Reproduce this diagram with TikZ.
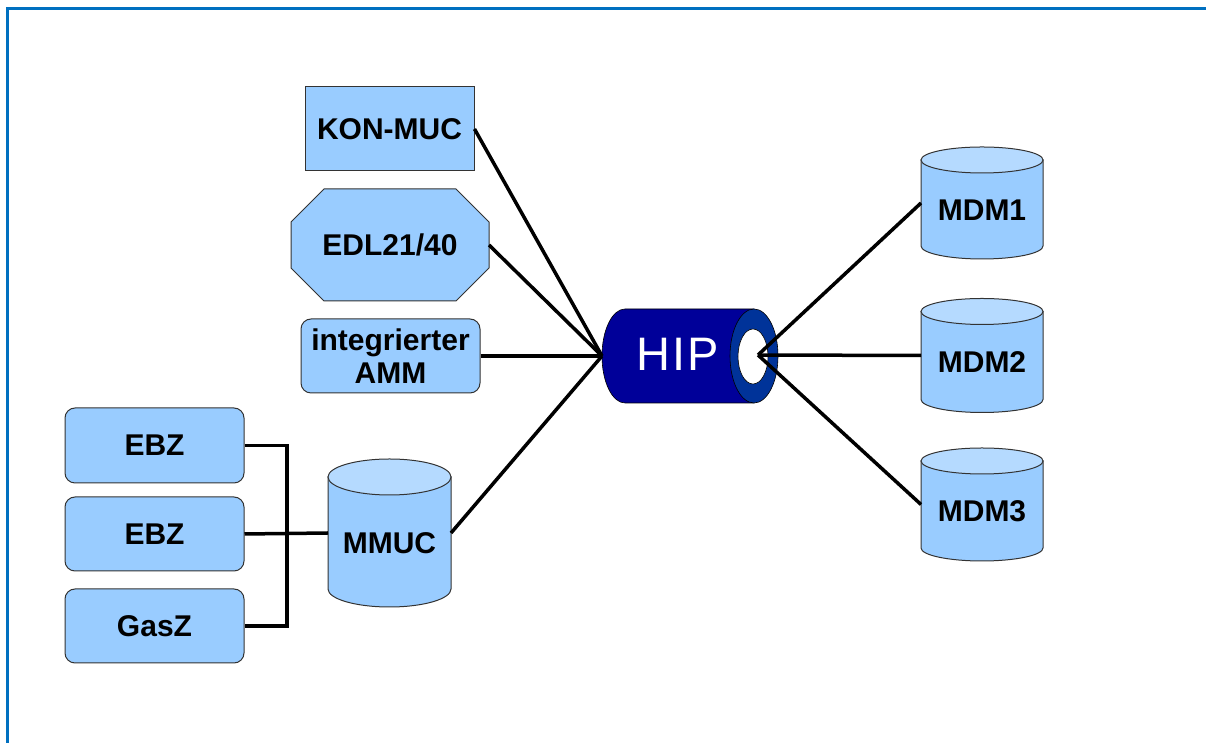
\documentclass[tikz,border=0pt]{standalone}
\usepackage{fontspec}
\setmainfont{Liberation Sans}
\usetikzlibrary{calc}
\definecolor{boxfill}{HTML}{99CCFF}
\definecolor{cyltop}{HTML}{B5DAFF}
\definecolor{frameblue}{HTML}{0070C0}
\definecolor{hipbody}{HTML}{000099}
\definecolor{hipring}{HTML}{003399}
\definecolor{outline}{HTML}{333333}
\newcommand\drawcyl[5]{%
  \filldraw[shapeline, fill=boxfill] ({#1-#3/2},{#2+#4/2-#5}) -- ({#1-#3/2},{#2-#4/2+#5}) arc[start angle=180, end angle=360, x radius={#3/2}, y radius=#5] -- ({#1+#3/2},{#2+#4/2-#5}) -- cycle;
  \filldraw[shapeline, fill=cyltop] (#1,{#2+#4/2-#5}) ellipse[x radius={#3/2}, y radius=#5];
}
\begin{document}
\begin{tikzpicture}[x=1pt,y=1pt,
  lbl/.style={font=\bfseries\fontsize{30}{33}\selectfont, align=center, text=black},
  sqbox/.style={lbl, draw=outline, fill=boxfill, line width=1pt, inner sep=0pt},
  rbox/.style={sqbox, rounded corners=10pt},
  ghost/.style={inner sep=0pt, outer sep=0pt},
  conn/.style={line width=3.5pt, black},
  shapeline/.style={draw=outline, line width=1pt},
]
\useasboundingbox (0,0) rectangle (1206,743);
\draw[frameblue, line width=3pt] (7.5,0) -- (7.5,734.5) -- (1206,734.5);

% left boxes
\node[sqbox, minimum width=169pt, minimum height=84pt] (kon) at (389.5,614) {KON-MUC};
\filldraw[shapeline, fill=boxfill] (324,554) -- (456,554) -- (489,521) -- (489,475) -- (456,442) -- (324,442) -- (291,475) -- (291,521) -- cycle;
\node[ghost, lbl, minimum width=198pt, minimum height=112pt] (edl) at (390,498) {EDL21/40};
\node[rbox, minimum width=179pt, minimum height=74pt] (amm) at (390.5,387) {integrierter\\AMM};

\node[rbox, minimum width=179pt, minimum height=75pt] (ebz1) at (154.5,297.5) {EBZ};
\node[rbox, minimum width=179pt, minimum height=74pt] (ebz2) at (154.5,209) {EBZ};
\node[rbox, minimum width=179pt, minimum height=74pt] (gasz) at (154.5,117) {GasZ};

% MMUC cylinder
\drawcyl{389.5}{210}{123}{148}{18}
\node[ghost, minimum width=123pt, minimum height=148pt] (mmuc) at (389.5,210) {};
\node[lbl] (mmuct) at (389.5,200) {MMUC};

% MDM cylinders
\drawcyl{982}{540}{122}{112}{13}
\node[ghost, minimum width=122pt, minimum height=112pt] (mdm1) at (982,540) {};
\node[lbl] (mdm1t) at (982,533) {MDM1};
\drawcyl{982}{387.5}{122}{114}{13}
\node[ghost, minimum width=122pt, minimum height=114pt] (mdm2) at (982,387.5) {};
\node[lbl] (mdm2t) at (982,380.5) {MDM2};
\drawcyl{982}{238.5}{122}{113}{13}
\node[ghost, minimum width=122pt, minimum height=113pt] (mdm3) at (982,238.5) {};
\node[lbl] (mdm3t) at (982,231.5) {MDM3};

% HIP
\filldraw[draw=black, line width=0.6pt, fill=hipbody] (625,434) -- (754,434) -- (754,340) -- (625,340) arc[start angle=270, end angle=90, x radius=23, y radius=47] -- cycle;
\filldraw[draw=black, line width=0.6pt, fill=hipring] (754,387) ellipse[x radius=24, y radius=47];
\filldraw[draw=black, line width=0.6pt, fill=white] (753,386.5) ellipse[x radius=15, y radius=27.5];
\node[ghost, minimum width=176pt, minimum height=94pt] (hip) at (690,387) {};
\node[text=white, font=\fontsize{47}{50}\selectfont] (hiptext) at (678,389) {H\kern2pt I\kern2pt P};
\coordinate (hipin) at (758,388);

% connectors
\draw[conn] (kon.east) -- (hip.west);
\draw[conn] (edl.east) -- (hip.west);
\draw[conn] (amm.east) -- (hip.west);
\draw[conn] (mmuc.east) -- (hip.west);
\draw[conn] (hipin) -- (mdm1.west);
\draw[conn] (hipin) -- (mdm2.west);
\draw[conn] (hipin) -- (mdm3.west);

\coordinate (busx) at (287,0);
\draw[conn] (ebz1.east) -- (ebz1.east -| busx) -- (gasz.east -| busx) -- (gasz.east);
\draw[conn] (ebz2.east) -- (mmuc.west);
\end{tikzpicture}
\end{document}
